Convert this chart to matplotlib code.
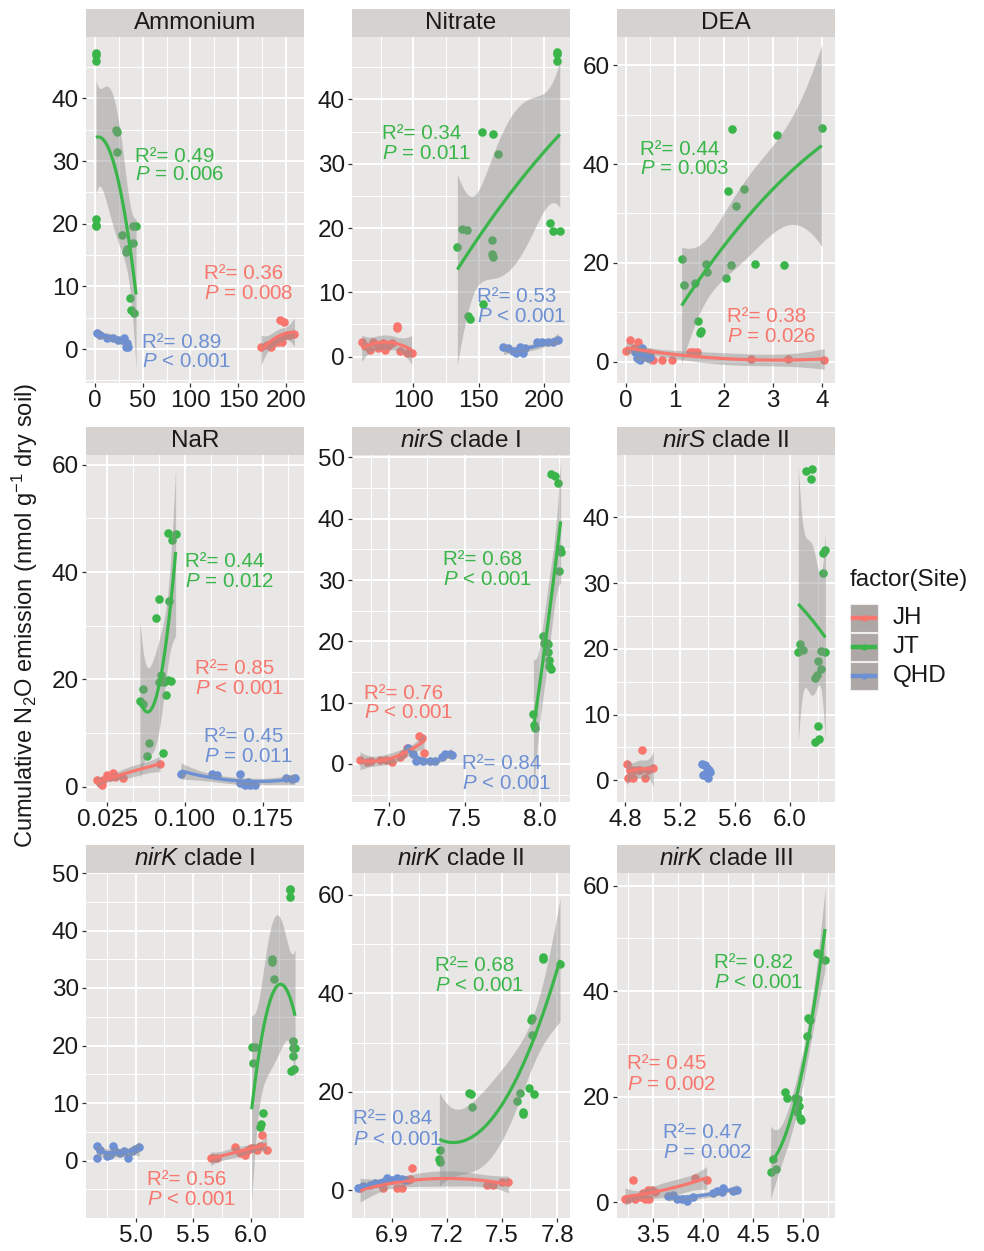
import numpy as np
import matplotlib
matplotlib.use("Agg")
import matplotlib.pyplot as plt
from matplotlib.patches import Rectangle
from matplotlib.lines import Line2D

plt.rcParams['font.family'] = ['Liberation Sans', 'DejaVu Sans']
plt.rcParams['mathtext.fontset'] = 'custom'
plt.rcParams['mathtext.rm'] = 'Liberation Sans'
plt.rcParams['mathtext.it'] = 'Liberation Sans:italic'

# cumulative N2O of the JT samples (same samples in every panel)
jt_n2o = [47.3, 47.0, 45.9, 35.0, 34.6, 31.5, 20.8, 19.8, 19.7, 19.6, 19.6, 18.2, 17.0, 16.0, 15.5, 8.2, 6.3, 5.8]

# Ammonium
ammonium_jt_x = [1, 1.5, 1, 22, 22.5, 23, 1, 1, 39.5, 1, 43, 28, 40, 33, 32, 37, 38, 40.5]
ammonium_jh_x = [174, 180, 184, 187, 192, 195, 196, 194, 198, 201, 204, 209]
ammonium_jh_y = [0.4, 0.7, 0.3, 1.0, 1.2, 1.8, 1.1, 4.7, 4.4, 2.3, 2.3, 2.4]
ammonium_qhd_x = [2, 5, 12, 19, 24, 28, 30, 32.5, 33, 35]
ammonium_qhd_y = [2.5, 2.3, 1.8, 1.8, 1.4, 1.5, 1.8, 0.4, 1.0, 0.4]

# Nitrate
nitrate_jt_x = [210.2, 210, 209.7, 152.8, 160.7, 165, 205, 137, 140.8, 207.1, 212.2, 160, 133.7, 160, 160.7, 153.6, 142, 143.4]
nitrate_jh_x = [60.5, 63, 66.8, 69.4, 73, 77, 78.3, 80.9, 83.4, 87.2, 87.8, 89.8, 94.9, 98.7]
nitrate_jh_y = [2.3, 1.6, 1.0, 2.3, 1.3, 2.1, 1.0, 1.6, 2.1, 4.4, 4.7, 0.8, 0.5, 0.5]
nitrate_qhd_x = [169, 172.7, 176.5, 179, 181.6, 184, 185.5, 194.4, 198.2, 203.3, 207, 211]
nitrate_qhd_y = [1.55, 1.3, 0.8, 0.5, 1.55, 0.5, 1.3, 2.3, 2.3, 2.3, 2.3, 2.6]

# DEA
dea_jt_x = [4.0, 2.16, 3.08, 2.42, 2.08, 2.25, 1.14, 1.63, 2.63, 3.22, 2.14, 1.65, 2.05, 1.41, 1.19, 1.48, 1.53, 1.51]
dea_jh_x = [0, 0.09, 0.16, 0.24, 0.36, 0.5, 0.56, 0.73, 0.94, 1.31, 1.38, 1.46, 2.55, 3.31, 4.05]
dea_jh_y = [2.2, 4.4, 2.7, 4.0, 2.0, 1.7, 0.3, 0.3, 0.3, 1.9, 1.9, 1.9, 0.5, 0.5, 0.3]
dea_qhd_x = [0.19, 0.22, 0.26, 0.29, 0.33, 0.39, 0.46, 0.5]
dea_qhd_y = [2.0, 0.7, 1.7, 0.3, 2.7, 1.35, 0.7, 1.0]

# NaR
nar_jt_x = [0.0839, 0.091, 0.0871, 0.0749, 0.0845, 0.072, 0.0768, 0.0839, 0.0861, 0.0752, 0.080, 0.0597, 0.0816, 0.0565, 0.0591, 0.0655, 0.079, 0.063]
nar_jh_x = [0.0147, 0.018, 0.0195, 0.021, 0.0244, 0.0276, 0.0308, 0.0324, 0.0404, 0.0758]
nar_jh_y = [1.2, 0.6, 0.3, 1.2, 2.2, 1.9, 2.5, 1.9, 1.6, 4.3]
nar_qhd_x = [0.0961, 0.1257, 0.1305, 0.153, 0.153, 0.158, 0.161, 0.163, 0.168, 0.198, 0.203, 0.206]
nar_qhd_y = [2.4, 2.4, 2.2, 2.4, 0.6, 0.3, 0.9, 0.3, 0.3, 1.6, 1.4, 1.6]

# nirS clade I
nirs1_jt_x = [8.073, 8.1, 8.122, 8.133, 8.137, 8.128, 8.018, 8.027, 8.044, 8.03, 8.05, 8.055, 8.06, 8.062, 8.071, 7.956, 7.96, 7.967]
nirs1_jh_x = [6.805, 6.85, 6.88, 6.94, 6.98, 7.015, 7.07, 7.088, 7.12, 7.2, 7.215, 7.23]
nirs1_jh_y = [0.65, 0.4, 0.5, 0.65, 0.65, 0.4, 1.1, 1.7, 2.6, 4.6, 4.2, 1.85]
nirs1_qhd_x = [7.126, 7.16, 7.18, 7.226, 7.27, 7.3, 7.347, 7.37, 7.4, 7.414]
nirs1_qhd_y = [2.6, 1.7, 0.5, 0.5, 0.5, 0.5, 1.2, 1.6, 1.6, 1.5]

# nirS clade II
nirs2_jt_x = [6.158, 6.116, 6.15, 6.257, 6.242, 6.238, 6.073, 6.097, 6.223, 6.06, 6.257, 6.206, 6.223, 6.199, 6.182, 6.206, 6.213, 6.182]
nirs2_jh_x = [4.812, 4.824, 4.836, 4.86, 4.86, 4.897, 4.909, 4.921, 4.945, 4.97, 5.006]
nirs2_jh_y = [2.5, 0.4, 1.5, 0.4, 1.5, 1.5, 1.5, 4.6, 0.4, 1.5, 1.8]
nirs2_qhd_x = [5.358, 5.37, 5.382, 5.382, 5.399, 5.406, 5.413, 5.418]
nirs2_qhd_y = [2.5, 0.8, 2.3, 1.0, 1.8, 0.4, 1.5, 1.3]

# nirK clade I
nirk1_jt_x = [6.342, 6.345, 6.342, 6.183, 6.19, 6.203, 6.365, 6.009, 6.038, 6.371, 6.386, 6.365, 6.023, 6.377, 6.348, 6.11, 6.087, 6.081]
nirk1_jh_x = [5.652, 5.675, 5.704, 5.864, 5.907, 5.951, 5.98, 6.0, 6.023, 6.052, 6.081, 6.096, 6.139]
nirk1_jh_y = [0.35, 0.46, 0.35, 2.4, 1.3, 1.0, 1.8, 2.2, 2.2, 1.9, 2.5, 4.5, 1.8]
nirk1_qhd_x = [4.661, 4.661, 4.69, 4.748, 4.777, 4.8, 4.82, 4.864, 4.9, 4.936, 4.965, 4.994, 5.032]
nirk1_qhd_y = [2.6, 0.46, 1.9, 0.75, 1.0, 2.6, 1.6, 1.3, 1.6, 0.46, 1.6, 2.0, 2.4]

# nirK clade II
nirk2_jt_x = [7.724, 7.72, 7.815, 7.661, 7.657, 7.661, 7.648, 7.597, 7.322, 7.674, 7.33, 7.583, 7.335, 7.612, 7.616, 7.163, 7.159, 7.163]
nirk2_jh_x = [6.728, 6.855, 6.927, 6.954, 6.99, 7.0, 7.009, 7.416, 7.452, 7.498, 7.534]
nirk2_jh_y = [0.5, 0.5, 0.5, 0.5, 2.2, 2.3, 4.5, 1.15, 1.15, 1.8, 1.8]
nirk2_qhd_x = [6.719, 6.746, 6.782, 6.81, 6.837, 6.855, 6.873, 6.9, 6.927, 6.954, 6.972]
nirk2_qhd_y = [0.5, 0.8, 1.15, 1.5, 1.5, 1.8, 2.5, 2.2, 2.5, 2.3, 2.2]

# nirK clade III
nirk3_jt_x = [5.14, 5.167, 5.224, 5.056, 5.073, 5.04, 4.822, 4.839, 4.922, 4.93, 4.95, 4.966, 4.94, 4.973, 4.98, 4.705, 4.732, 4.678]
nirk3_jh_x = [3.216, 3.25, 3.3, 3.316, 3.366, 3.4, 3.416, 3.45, 3.46, 3.483, 3.517, 3.918, 4.035]
nirk3_jh_y = [0.57, 0.57, 4.2, 0.57, 0.95, 1.7, 0.57, 2.3, 0.57, 2.3, 2.0, 4.5, 4.2]
nirk3_qhd_x = [3.65, 3.7, 3.734, 3.784, 3.835, 3.9, 4.1, 4.136, 4.186, 4.203, 4.303, 4.337]
nirk3_qhd_y = [1.2, 1.4, 0.57, 0.57, 0.3, 1.07, 1.7, 2.2, 2.0, 2.65, 2.2, 2.3]

titles = ['Ammonium', 'Nitrate', 'DEA', 'NaR',
          r'$\mathit{nirS}$ clade I', r'$\mathit{nirS}$ clade II',
          r'$\mathit{nirK}$ clade I', r'$\mathit{nirK}$ clade II', r'$\mathit{nirK}$ clade III']

# (site, R2, P) for each panel
stats = [
    [('JT', '0.49', '= 0.006'), ('JH', '0.36', '= 0.008'), ('QHD', '0.89', '< 0.001')],
    [('JT', '0.34', '= 0.011'), ('QHD', '0.53', '< 0.001')],
    [('JT', '0.44', '= 0.003'), ('JH', '0.38', '= 0.026')],
    [('JT', '0.44', '= 0.012'), ('JH', '0.85', '< 0.001'), ('QHD', '0.45', '= 0.011')],
    [('JT', '0.68', '< 0.001'), ('JH', '0.76', '< 0.001'), ('QHD', '0.84', '< 0.001')],
    [],
    [('JH', '0.56', '< 0.001')],
    [('JT', '0.68', '< 0.001'), ('QHD', '0.84', '< 0.001')],
    [('JT', '0.82', '< 0.001'), ('JH', '0.45', '= 0.002'), ('QHD', '0.47', '= 0.002')],
]

data = [
    (ammonium_jt_x, ammonium_jh_x, ammonium_jh_y, ammonium_qhd_x, ammonium_qhd_y),
    (nitrate_jt_x, nitrate_jh_x, nitrate_jh_y, nitrate_qhd_x, nitrate_qhd_y),
    (dea_jt_x, dea_jh_x, dea_jh_y, dea_qhd_x, dea_qhd_y),
    (nar_jt_x, nar_jh_x, nar_jh_y, nar_qhd_x, nar_qhd_y),
    (nirs1_jt_x, nirs1_jh_x, nirs1_jh_y, nirs1_qhd_x, nirs1_qhd_y),
    (nirs2_jt_x, nirs2_jh_x, nirs2_jh_y, nirs2_qhd_x, nirs2_qhd_y),
    (nirk1_jt_x, nirk1_jh_x, nirk1_jh_y, nirk1_qhd_x, nirk1_qhd_y),
    (nirk2_jt_x, nirk2_jh_x, nirk2_jh_y, nirk2_qhd_x, nirk2_qhd_y),
    (nirk3_jt_x, nirk3_jh_x, nirk3_jh_y, nirk3_qhd_x, nirk3_qhd_y),
]

colors = {'JH': '#F8766D', 'JT': '#3AB54A', 'QHD': '#6D8FD3'}

# axis layout per panel: xlim, ylim, x major, x labels, x minor, y major, y minor
axes_cfg = [
    ((-9.5, 219), (-5.4, 49.8), [0, 50, 100, 150, 200], ['0', '50', '100', '150', '200'],
     [25, 75, 125, 175], [0, 10, 20, 30, 40], [-5, 5, 15, 25, 35, 45]),
    ((53, 220), (-4.1, 49.7), [100, 150, 200], ['100', '150', '200'],
     [75, 125, 175], [0, 10, 20, 30, 40], [5, 15, 25, 35, 45]),
    ((-0.18, 4.27), (-4.3, 65.7), [0, 1, 2, 3, 4], ['0', '1', '2', '3', '4'],
     [0.5, 1.5, 2.5, 3.5], [0, 20, 40, 60], [10, 30, 50]),
    ((0.0044, 0.215), (-2.85, 61.8), [0.025, 0.1, 0.175], ['0.025', '0.100', '0.175'],
     [0.05, 0.075, 0.125, 0.15, 0.2], [0, 20, 40, 60], [10, 30, 50]),
    ((6.752, 8.199), (-6.2, 50.4), [7.0, 7.5, 8.0], ['7.0', '7.5', '8.0'],
     [6.875, 7.25, 7.75, 8.125], [0, 10, 20, 30, 40, 50], [-5, 5, 15, 25, 35, 45]),
    ((4.742, 6.327), (-3.3, 49.5), [4.8, 5.2, 5.6, 6.0], ['4.8', '5.2', '5.6', '6.0'],
     [5.0, 5.4, 5.8, 6.2], [0, 10, 20, 30, 40], [5, 15, 25, 35, 45]),
    ((4.568, 6.464), (-10, 50.0), [5.0, 5.5, 6.0], ['5.0', '5.5', '6.0'],
     [4.75, 5.25, 5.75, 6.25], [0, 10, 20, 30, 40, 50], [-5, 5, 15, 25, 35, 45]),
    ((6.684, 7.869), (-5.6, 64.4), [6.9, 7.2, 7.5, 7.8], ['6.9', '7.2', '7.5', '7.8'],
     [6.75, 7.05, 7.35, 7.65], [0, 20, 40, 60], [10, 30, 50]),
    ((3.135, 5.324), (-3.0, 62.4), [3.5, 4.0, 4.5, 5.0], ['3.5', '4.0', '4.5', '5.0'],
     [3.25, 3.75, 4.25, 4.75, 5.25], [0, 20, 40, 60], [10, 30, 50]),
]

# label anchors (x, y of R2 line, y of P line) in data units
label_pos = [
    {'JT': (42, 30.8, 27.8), 'JH': (114, 12.0, 8.8), 'QHD': (49, 1.1, -2.0)},
    {'JT': (75.8, 34.7, 31.6), 'QHD': (148.5, 9.4, 6.3)},
    {'JT': (0.29, 43.0, 39.0), 'JH': (2.07, 9.2, 5.2)},
    {'JT': (0.100, 42.0, 38.3), 'JH': (0.1096, 22.0, 18.3), 'QHD': (0.1183, 9.4, 5.6)},
    {'JT': (7.354, 33.4, 30.1), 'JH': (6.834, 11.5, 8.4), 'QHD': (7.48, 0.1, -3.2)},
    {},
    {'JH': (5.096, -3.3, -6.8)},
    {'JT': (7.136, 45.6, 41.5), 'QHD': (6.69, 14.5, 10.4)},
    {'JT': (4.109, 45.4, 41.6), 'JH': (3.232, 26.2, 22.4), 'QHD': (3.6, 13.3, 9.5)},
]

no_smooth = {(5, 'QHD')}


def t975(df):
    z = 1.959964
    g1 = (z**3 + z) / 4
    g2 = (5 * z**5 + 16 * z**3 + 3 * z) / 96
    g3 = (3 * z**7 + 19 * z**5 + 17 * z**3 - 15 * z) / 384
    return z + g1 / df + g2 / df**2 + g3 / df**3


def quad_smooth(x, y, n=80):
    x = np.asarray(x, float)
    y = np.asarray(y, float)
    xc, xs = x.mean(), x.std()
    u = (x - xc) / xs
    X = np.column_stack([np.ones_like(u), u, u**2])
    beta = np.linalg.lstsq(X, y, rcond=None)[0]
    res = y - X @ beta
    dof = len(x) - 3
    cov = (res @ res / dof) * np.linalg.inv(X.T @ X)
    grid = np.linspace(x.min(), x.max(), n)
    g = (grid - xc) / xs
    G = np.column_stack([np.ones_like(g), g, g**2])
    fit = G @ beta
    se = np.sqrt(np.einsum('ij,jk,ik->i', G, cov, G))
    t = t975(dof)
    return grid, fit, fit - t * se, fit + t * se


W, H = 984, 1251
fig = plt.figure(figsize=(W / 100, H / 100), dpi=100)

col_left = [86, 352, 617]
panel_w = 218
panel_top = [37, 455, 873]
panel_bot = [383, 802, 1218]
strip_h = 28

bg = '#E9E7E5'
strip_col = '#D6D2D0'

for i in range(9):
    r, c = divmod(i, 3)
    l, t, b = col_left[c], panel_top[r], panel_bot[r]
    ax = fig.add_axes([l / W, 1 - b / H, panel_w / W, (b - t) / H])
    ax.set_facecolor(bg)
    for s in ax.spines.values():
        s.set_visible(False)

    xlim, ylim, xmaj, xlab, xmin, ymaj, ymin = axes_cfg[i]
    ax.set_xlim(*xlim)
    ax.set_ylim(*ylim)
    ax.set_xticks(xmaj)
    ax.set_xticklabels(xlab)
    ax.set_xticks(xmin, minor=True)
    ax.set_yticks(ymaj)
    ax.set_yticks(ymin, minor=True)
    ax.grid(which='major', color='white', lw=1.4)
    ax.grid(which='minor', color='white', lw=0.7)
    ax.set_axisbelow(True)
    ax.tick_params(which='major', direction='out', length=3, width=0.9, color='#333333',
                   labelsize=17.5, labelcolor='#1a1a1a', pad=2)
    ax.tick_params(which='minor', length=0)

    jt_x, jh_x, jh_y, qhd_x, qhd_y = data[i]
    groups = {'JH': (jh_x, jh_y), 'JT': (jt_x, jt_n2o), 'QHD': (qhd_x, qhd_y)}

    for site in ['JH', 'JT', 'QHD']:
        gx, gy = groups[site]
        ax.scatter(gx, gy, s=38, color=colors[site], linewidths=0, zorder=2)

    for site in ['JH', 'JT', 'QHD']:
        if (i, site) in no_smooth:
            continue
        gx, gy = groups[site]
        sx, sy, lo, hi = quad_smooth(gx, gy)
        ax.fill_between(sx, lo, hi, color='#8f8f8f', alpha=0.45, lw=0, zorder=3)
        ax.plot(sx, sy, color=colors[site], lw=2.3, zorder=4, solid_capstyle='butt')

    for site, r2, p in stats[i]:
        x0, yr, yp = label_pos[i][site]
        ax.text(x0, yr, 'R\u00b2= ' + r2, color=colors[site], fontsize=14.8,
                ha='left', va='center', zorder=5)
        ax.text(x0, yp, r'$\mathit{P}$ ' + p, color=colors[site], fontsize=14.8,
                ha='left', va='center', zorder=5)

    # facet strip
    fig.patches.append(Rectangle((l / W, 1 - t / H), panel_w / W, strip_h / H,
                                 transform=fig.transFigure, facecolor=strip_col,
                                 edgecolor='none'))
    fig.text((l + panel_w / 2) / W, 1 - (t - strip_h / 2) / H, titles[i],
             ha='center', va='center', fontsize=17.5, color='#1a1a1a')

fig.text(25 / W, 1 - 616 / H, 'Cumulative N$_2$O emission (nmol g$^{-1}$ dry soil)',
         rotation=90, ha='center', va='center', fontsize=17, color='#1a1a1a')

# legend
fig.text(850 / W, 1 - 580 / H, 'factor(Site)', ha='left', va='center', fontsize=17.5,
         color='#1a1a1a')
for k, site in enumerate(['JH', 'JT', 'QHD']):
    top = 604 + k * 29
    fig.patches.append(Rectangle((850 / W, 1 - (top + 28) / H), 28 / W, 28 / H,
                                 transform=fig.transFigure, facecolor='#ADA8A6',
                                 edgecolor='#EEEEEE', lw=0.8))
    yc = 1 - (top + 14) / H
    fig.lines.append(Line2D([853 / W, 875 / W], [yc, yc], transform=fig.transFigure,
                            color=colors[site], lw=3.2))
    fig.lines.append(Line2D([864 / W], [yc], transform=fig.transFigure, marker='o',
                            ms=4.5, mew=0, color=colors[site]))
    fig.text(893 / W, yc, site, ha='left', va='center', fontsize=17.5, color='#1a1a1a')

fig.savefig('out.png', dpi=100, facecolor='white')
